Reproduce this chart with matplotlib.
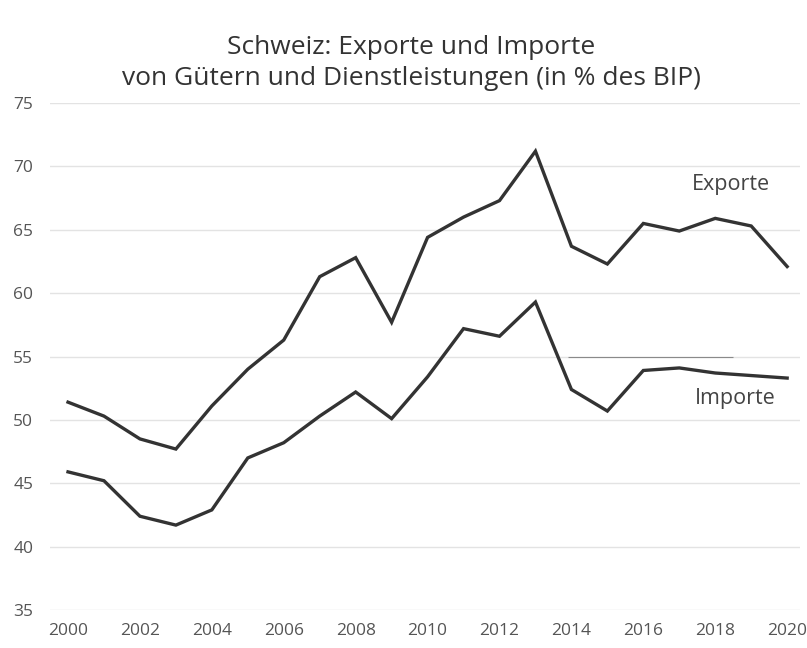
import matplotlib
matplotlib.use("Agg")
import matplotlib.pyplot as plt

years = list(range(2000, 2021))
exporte = [51.4, 50.3, 48.5, 47.7, 51.1, 54.0, 56.3, 61.3, 62.8, 57.7, 64.4,
           66.0, 67.3, 71.2, 63.7, 62.3, 65.5, 64.9, 65.9, 65.3, 62.1]
importe = [45.9, 45.2, 42.4, 41.7, 42.9, 47.0, 48.2, 50.3, 52.2, 50.1, 53.4,
           57.2, 56.6, 59.3, 52.4, 50.7, 53.9, 54.1, 53.7, 53.5, 53.3]
yticks = [35, 40, 45, 50, 55, 60, 65, 70, 75]
xticks = list(range(2000, 2021, 2))
title = "Schweiz: Exporte und Importe\nvon Gütern und Dienstleistungen (in % des BIP)"

plt.rcParams['font.family'] = ['Open Sans', 'DejaVu Sans']

fig = plt.figure(figsize=(8.07, 6.48), dpi=100)
ax = fig.add_axes([0.062, 0.0586, 0.929, 0.7824])

ax.plot(years, exporte, color='#333333', lw=2.4, solid_joinstyle='miter')
ax.plot(years, importe, color='#333333', lw=2.4, solid_joinstyle='miter')

ax.set_xlim(1999.5, 2020.35)
ax.set_ylim(35, 75)
ax.set_yticks(yticks)
ax.set_xticks(xticks)
ax.grid(axis='y', color='#e3e3e3', lw=1)
ax.set_axisbelow(True)
# faint scanner artefact along the 55 gridline
ax.hlines(55, 2013.9, 2018.5, color='#8a8a8a', lw=0.8)
for s in ax.spines.values():
    s.set_visible(False)
ax.tick_params(length=0, labelsize=12.5, colors='#555555', pad=9)
ax.tick_params(axis='y', pad=12)

ax.text(2018.45, 68.6, "Exporte", fontsize=15.5, color='#444444', ha='center', va='center')
ax.text(2018.55, 51.7, "Importe", fontsize=15.5, color='#444444', ha='center', va='center')

fig.text(0.51, 0.903, title, ha='center', va='center', fontsize=19,
         color='#333333', linespacing=1.28)

fig.savefig("out.png", dpi=100)
